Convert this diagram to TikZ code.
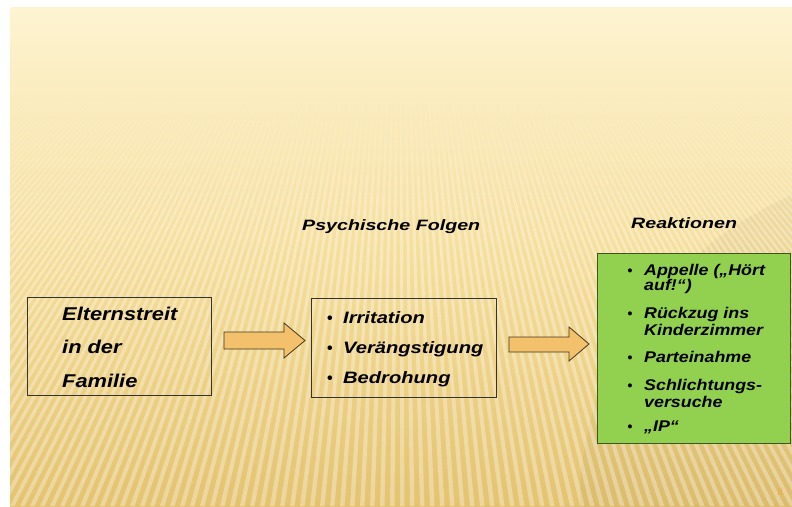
\documentclass[tikz,border=0pt]{standalone}
\usepackage{fontspec}
\setmainfont{Liberation Sans}
\newfontfamily\wideA[FakeStretch=1.18]{Liberation Sans}
\newfontfamily\wideB[FakeStretch=1.22]{Liberation Sans}
\newfontfamily\wideC[FakeStretch=1.15]{Liberation Sans}
\newfontfamily\wideT[FakeStretch=1.31]{Liberation Sans}
\newfontfamily\pagefont{Liberation Serif}
\definecolor{bgtop}{RGB}{254,244,210}
\definecolor{bgmid}{RGB}{245,222,156}
\definecolor{bgbot}{RGB}{228,195,112}
\definecolor{arrowfill}{RGB}{243,192,108}
\definecolor{arrowline}{RGB}{70,55,30}
\definecolor{boxgreen}{RGB}{146,208,80}
\definecolor{greenline}{RGB}{60,85,35}
\definecolor{pagenum}{RGB}{236,168,56}
\tikzset{
  framebox/.style={draw=black!80, line width=0.9pt, inner sep=0pt},
  leftline/.style={anchor=base west, inner sep=0pt, font=\wideA\fontsize{18.5}{20}\selectfont\bfseries\itshape},
  midline/.style={anchor=base west, inner sep=0pt, font=\wideB\fontsize{16.5}{18}\selectfont\bfseries\itshape},
  rightline/.style={anchor=base west, inner sep=0pt, font=\wideC\fontsize{15.5}{17}\selectfont\bfseries\itshape},
  bulletmark/.style={anchor=base, inner sep=0pt, font=\fontsize{16}{16}\selectfont\bfseries},
  rbulletmark/.style={anchor=base, inner sep=0pt, font=\fontsize{14}{14}\selectfont\bfseries},
  headline/.style={anchor=base west, inner sep=0pt, font=\wideT\fontsize{15}{17}\selectfont\bfseries\itshape},
  blockarrow/.style={fill=arrowfill, draw=arrowline, line width=0.8pt, line join=miter},
}
\begin{document}
\begin{tikzpicture}[x=1pt,y=-1pt]
\useasboundingbox (0,0) rectangle (792,506);
% background
\fill[white] (0,0) rectangle (792,506);
\shade[top color=bgtop, bottom color=bgbot, middle color=bgmid] (10,7) rectangle (792,506);
\begin{scope}
\clip (10,7) rectangle (792,506);
\fill[black!45!bgbot, opacity=0.07] (960,500) ellipse (380 and 340);
\foreach \ya/\yb/\op in {85/103/0.03, 103/121/0.07, 121/139/0.11, 139/157/0.15, 157/175/0.19, 175/193/0.23, 193/211/0.27, 211/229/0.30, 229/506/0.32}{
  \pgfmathsetmacro{\ka}{(\ya+250)/756}
  \pgfmathsetmacro{\kb}{(\yb+250)/756}
  \fill[white, opacity=\op]
    \foreach \b in {-900,-890,...,1700}{
      ({400+(\b-400)*\ka},\ya) -- ({400+(\b+4.5-400)*\ka},\ya)
      -- ({400+(\b+4.5-400)*\kb},\yb) -- ({400+(\b-400)*\kb},\yb) -- cycle
    };
}
\end{scope}

% headings
\node[headline] (h1) at (302,230) {Psychische Folgen};
\node[headline] (h2) at (631,228) {Reaktionen};

% left box
\node[framebox, anchor=north west, minimum width=184pt, minimum height=98pt] (b1) at (27,297) {};
\node[leftline] (l1) at (62,320) {Elternstreit};
\node[leftline] (l2) at (62,353.5) {in der};
\node[leftline] (l3) at (62,387) {Familie};

% middle box
\node[framebox, anchor=north west, minimum width=185pt, minimum height=99pt] (b2) at (311,298) {};
\foreach \y/\t [count=\k] in {323/Irritation, 353.5/Verängstigung, 383.5/Bedrohung}{
  \node[bulletmark] (mb\k) at (330,\y) {•};
  \node[midline] (m\k) at (343,\y) {\t};
}

% right box
\node[framebox, draw=greenline, fill=boxgreen, anchor=north west, minimum width=193pt, minimum height=190pt] (b3) at (597,253) {};
\node[rbulletmark] (rb1) at (630,275) {•};
\node[rightline] (r1) at (644,275) {Appelle („Hört};
\node[rightline] (r1b) at (644,290.5) {auf!“)};
\node[rbulletmark] (rb2) at (630,318.5) {•};
\node[rightline] (r2) at (644,318.5) {Rückzug ins};
\node[rightline] (r2b) at (644,335.5) {Kinderzimmer};
\node[rbulletmark] (rb3) at (630,362.5) {•};
\node[rightline] (r3) at (644,362.5) {Parteinahme};
\node[rbulletmark] (rb4) at (630,390) {•};
\node[rightline] (r4) at (644,390) {Schlichtungs-};
\node[rightline] (r4b) at (644,407) {versuche};
\node[rbulletmark] (rb5) at (630,431) {•};
\node[rightline] (r5) at (644,431) {„IP“};

% block arrows
\draw[blockarrow] (224,332) -- (284,332) -- (284,323) -- (305,340.5) -- (284,358) -- (284,349) -- (224,349) -- cycle;
\draw[blockarrow] (509,337) -- (569,337) -- (569,327) -- (589,344) -- (569,361) -- (569,352) -- (509,352) -- cycle;

% page number
\node[anchor=base, inner sep=0pt, text=pagenum, font=\pagefont\fontsize{10}{10}\selectfont] (pg) at (780,495) {8};
\end{tikzpicture}
\end{document}
